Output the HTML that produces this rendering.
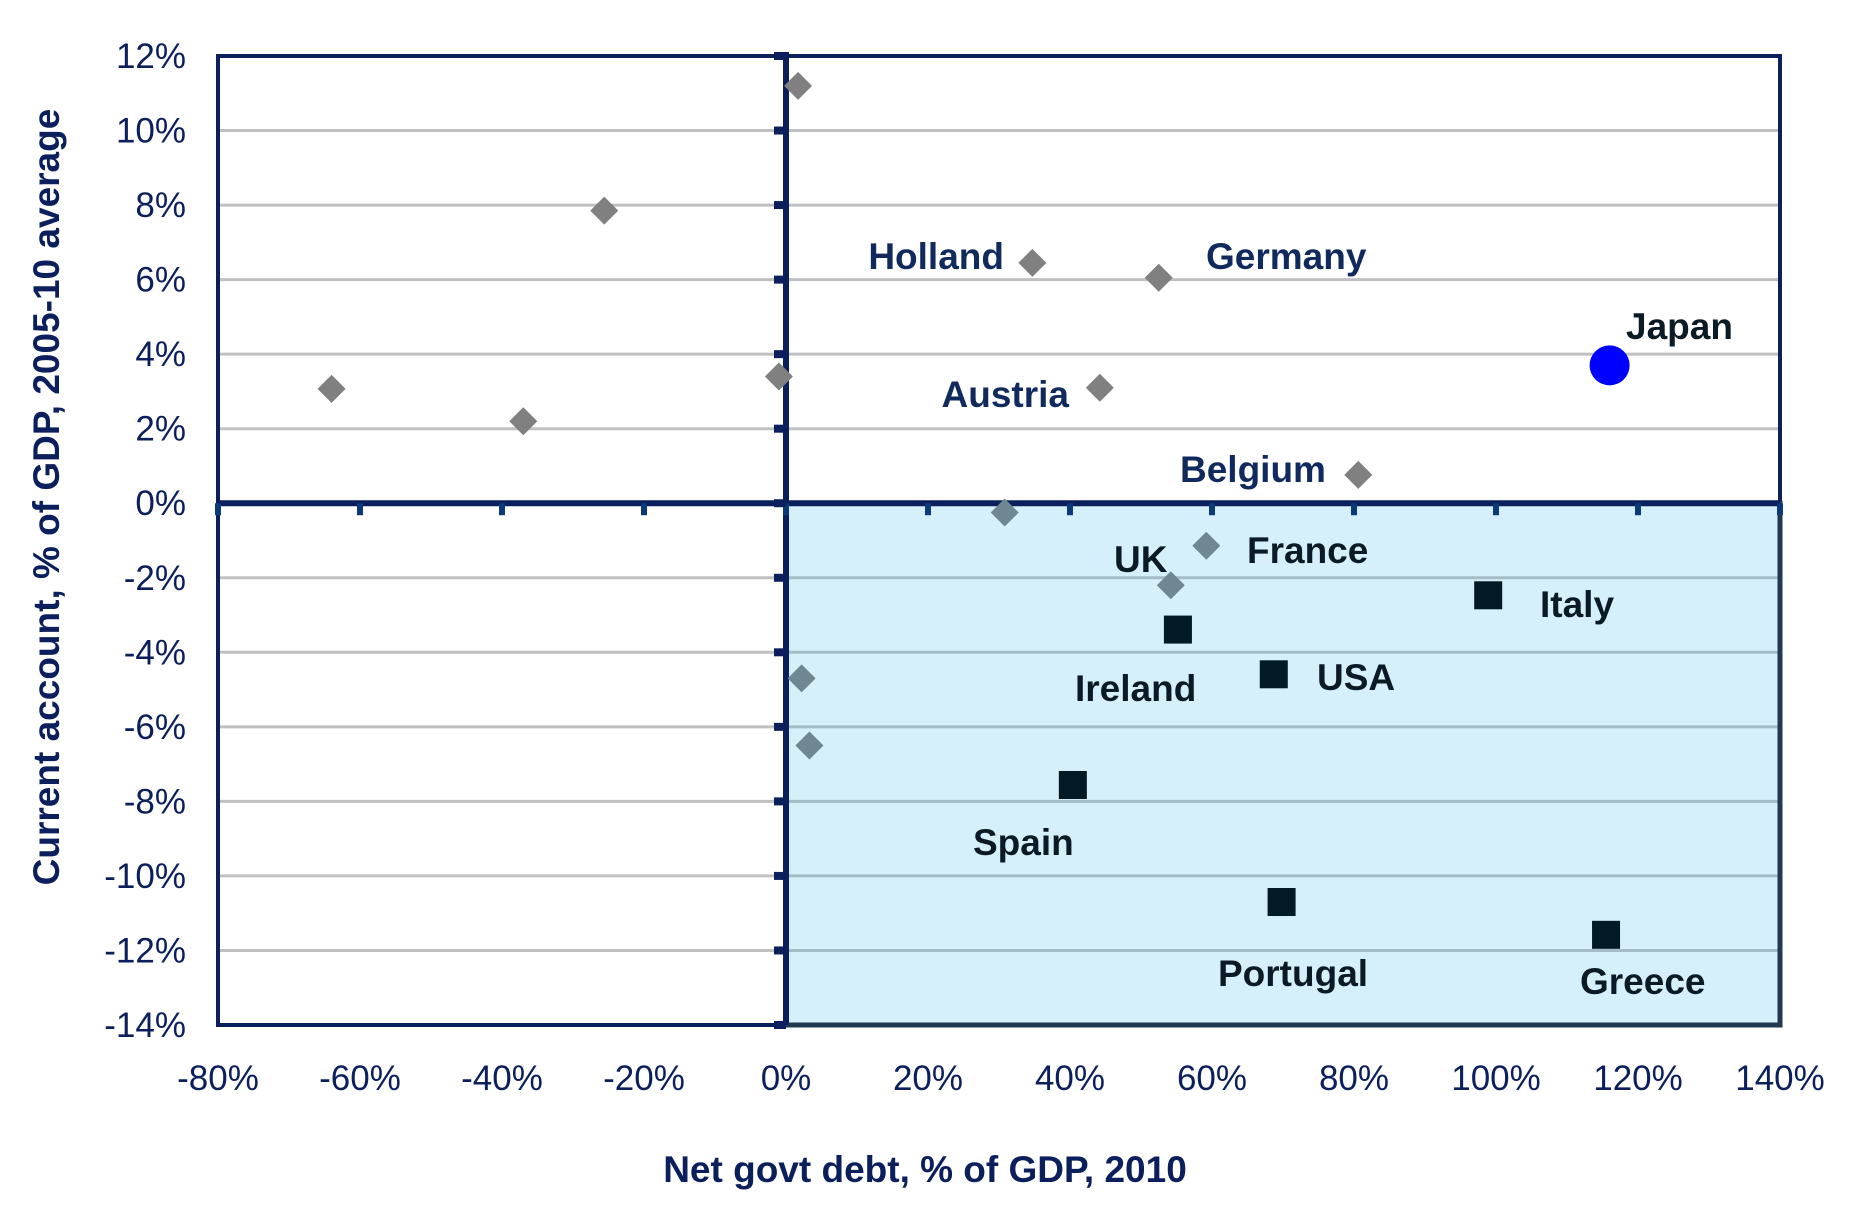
<!DOCTYPE html>
<html><head><meta charset="utf-8"><style>
html,body{margin:0;padding:0;background:#fff}
svg{display:block}
text{font-family:"Liberation Sans",Arial,sans-serif}
</style></head><body>
<svg id="chart" width="1858" height="1232" viewBox="0 0 1858 1232" xmlns="http://www.w3.org/2000/svg"></svg>
<script>
const xTicks=[-80,-60,-40,-20,0,20,40,60,80,100,120,140];
const yTicks=[12,10,8,6,4,2,0,-2,-4,-6,-8,-10,-12,-14];
const otherX=[-64,-37,-25.6,-1,1.7,30.8,2.2,3.3];
const otherY=[3.07,2.2,7.85,3.4,11.2,-0.25,-4.7,-6.5];
const namedDiamondNames=["Holland","Germany","Austria","Belgium","France","UK"];
const namedDiamondX=[34.7,52.5,44.2,80.6,59.2,54.2];
const namedDiamondY=[6.45,6.05,3.1,0.76,-1.14,-2.2];
const squareNames=["Italy","Ireland","USA","Spain","Portugal","Greece"];
const squareX=[98.9,55.2,68.7,40.4,69.8,115.5];
const squareY=[-2.47,-3.39,-4.59,-7.56,-10.7,-11.58];
const japanX=[116];
const japanY=[3.7];

const X0=218,X1=1780,Y0=56,Y1=1025;
function sx(v){return X0+(v-(-80))/(220)*(X1-X0);}
function sy(v){return Y0+(12-v)/26*(Y1-Y0);}
const svg=document.getElementById('chart');
const NS='http://www.w3.org/2000/svg';
function mk(tag,attrs,parent){const e=document.createElementNS(NS,tag);for(const k in attrs)e.setAttribute(k,attrs[k]);(parent||svg).appendChild(e);return e;}

let r=mk('rect',{x:sx(0),y:sy(0),width:sx(140)-sx(0),height:sy(-14)-sy(0),fill:'#d6f0fb'});


yTicks.forEach(v=>{
  if(v===12||v===0||v===-14)return;
  if(v>0){let g=mk('line',{x1:X0,x2:X1,y1:sy(v),y2:sy(v),stroke:'#c0c0c0','stroke-width':3});
    
    }
  else{let g=mk('line',{x1:X0,x2:sx(0),y1:sy(v),y2:sy(v),stroke:'#c0c0c0','stroke-width':3});
    
    
    let g2=mk('line',{x1:sx(0),x2:X1,y1:sy(v),y2:sy(v),stroke:'#a3bcc6','stroke-width':3});
    
    }
});
let f=mk('rect',{x:X0,y:Y0,width:X1-X0,height:Y1-Y0,fill:'none',stroke:'#0a1f5c','stroke-width':4});


let f2=mk('rect',{x:sx(0),y:sy(0),width:sx(140)-sx(0),height:sy(-14)-sy(0),fill:'none',stroke:'#21394f','stroke-width':5});


let ax=mk('line',{x1:X0,x2:X1,y1:sy(0),y2:sy(0),stroke:'#0a1f5c','stroke-width':6});


let ay=mk('line',{x1:sx(0),x2:sx(0),y1:Y0-4,y2:Y1,stroke:'#0a1f5c','stroke-width':6});


xTicks.forEach(v=>{
  let t=mk('line',{x1:sx(v),x2:sx(v),y1:sy(0),y2:sy(0)+12,stroke:'#0a3a7a','stroke-width':6});
  
  
  let l=mk('text',{x:sx(v),y:1090,'text-anchor':'middle','font-size':35,fill:'#0a1f5c'});
  l.textContent=v+'%';
  
  
});
yTicks.forEach(v=>{
  let t=mk('line',{x1:sx(0)-12,x2:sx(0),y1:sy(v),y2:sy(v),stroke:'#0a1f5c','stroke-width':8});
  
  
  let l=mk('text',{x:186,y:sy(v)+12,'text-anchor':'end','font-size':35,fill:'#0a1f5c'});
  l.textContent=v+'%';
  
  
});
function diamond(x,y,c,name){
  const cx=sx(x),cy=sy(y),h=14;
  let d=mk('polygon',{points:`${cx},${cy-h} ${cx+h},${cy} ${cx},${cy+h} ${cx-h},${cy}`,fill:c});
  
  
}
function col(x,y){return (x>0&&y<0)?'#6e8790':'#808080';}
otherX.forEach((x,i)=>diamond(x,otherY[i],col(x,otherY[i]),'country-point'));
namedDiamondX.forEach((x,i)=>diamond(x,namedDiamondY[i],col(x,namedDiamondY[i]),'point-'+namedDiamondNames[i].toLowerCase()));
squareX.forEach((x,i)=>{
  let s=mk('rect',{x:sx(x)-14,y:sy(squareY[i])-14,width:28,height:28,fill:'#011a24'});
  
  
});
japanX.forEach((x,i)=>{
  let c=mk('circle',{cx:sx(x),cy:sy(japanY[i]),r:20,fill:'#0000ff'});
  
  
});
const labels=[["Holland",1004,269,'end','#102a5e'],["Germany",1206,269,'start','#102a5e'],["Japan",1626,339,'start','#0b1b26'],
["Austria",1069,407,'end','#102a5e'],["Belgium",1180,482,'start','#102a5e'],["France",1247,563,'start','#0b1b26'],
["UK",1114,572,'start','#0b1b26'],["Italy",1540,617,'start','#0b1b26'],["Ireland",1075,701,'start','#0b1b26'],
["USA",1317,690,'start','#0b1b26'],["Spain",973,855,'start','#0b1b26'],["Portugal",1218,986,'start','#0b1b26'],["Greece",1580,994,'start','#0b1b26']];
labels.forEach(a=>{
  let t=mk('text',{x:a[1],y:a[2],'text-anchor':a[3],'font-size':37,'font-weight':'bold',fill:a[4]});
  t.textContent=a[0];
  
  
});
let xt=mk('text',{x:925,y:1182,'text-anchor':'middle','font-size':37,'font-weight':'bold',fill:'#0a1f5c'});
xt.textContent='Net govt debt, % of GDP, 2010';


let yt=mk('text',{x:0,y:0,'text-anchor':'middle','font-size':37,'font-weight':'bold',fill:'#0a1f5c',transform:'translate(59,497) rotate(-90)'});
yt.textContent='Current account, % of GDP, 2005-10 average';


</script>
</body></html>
